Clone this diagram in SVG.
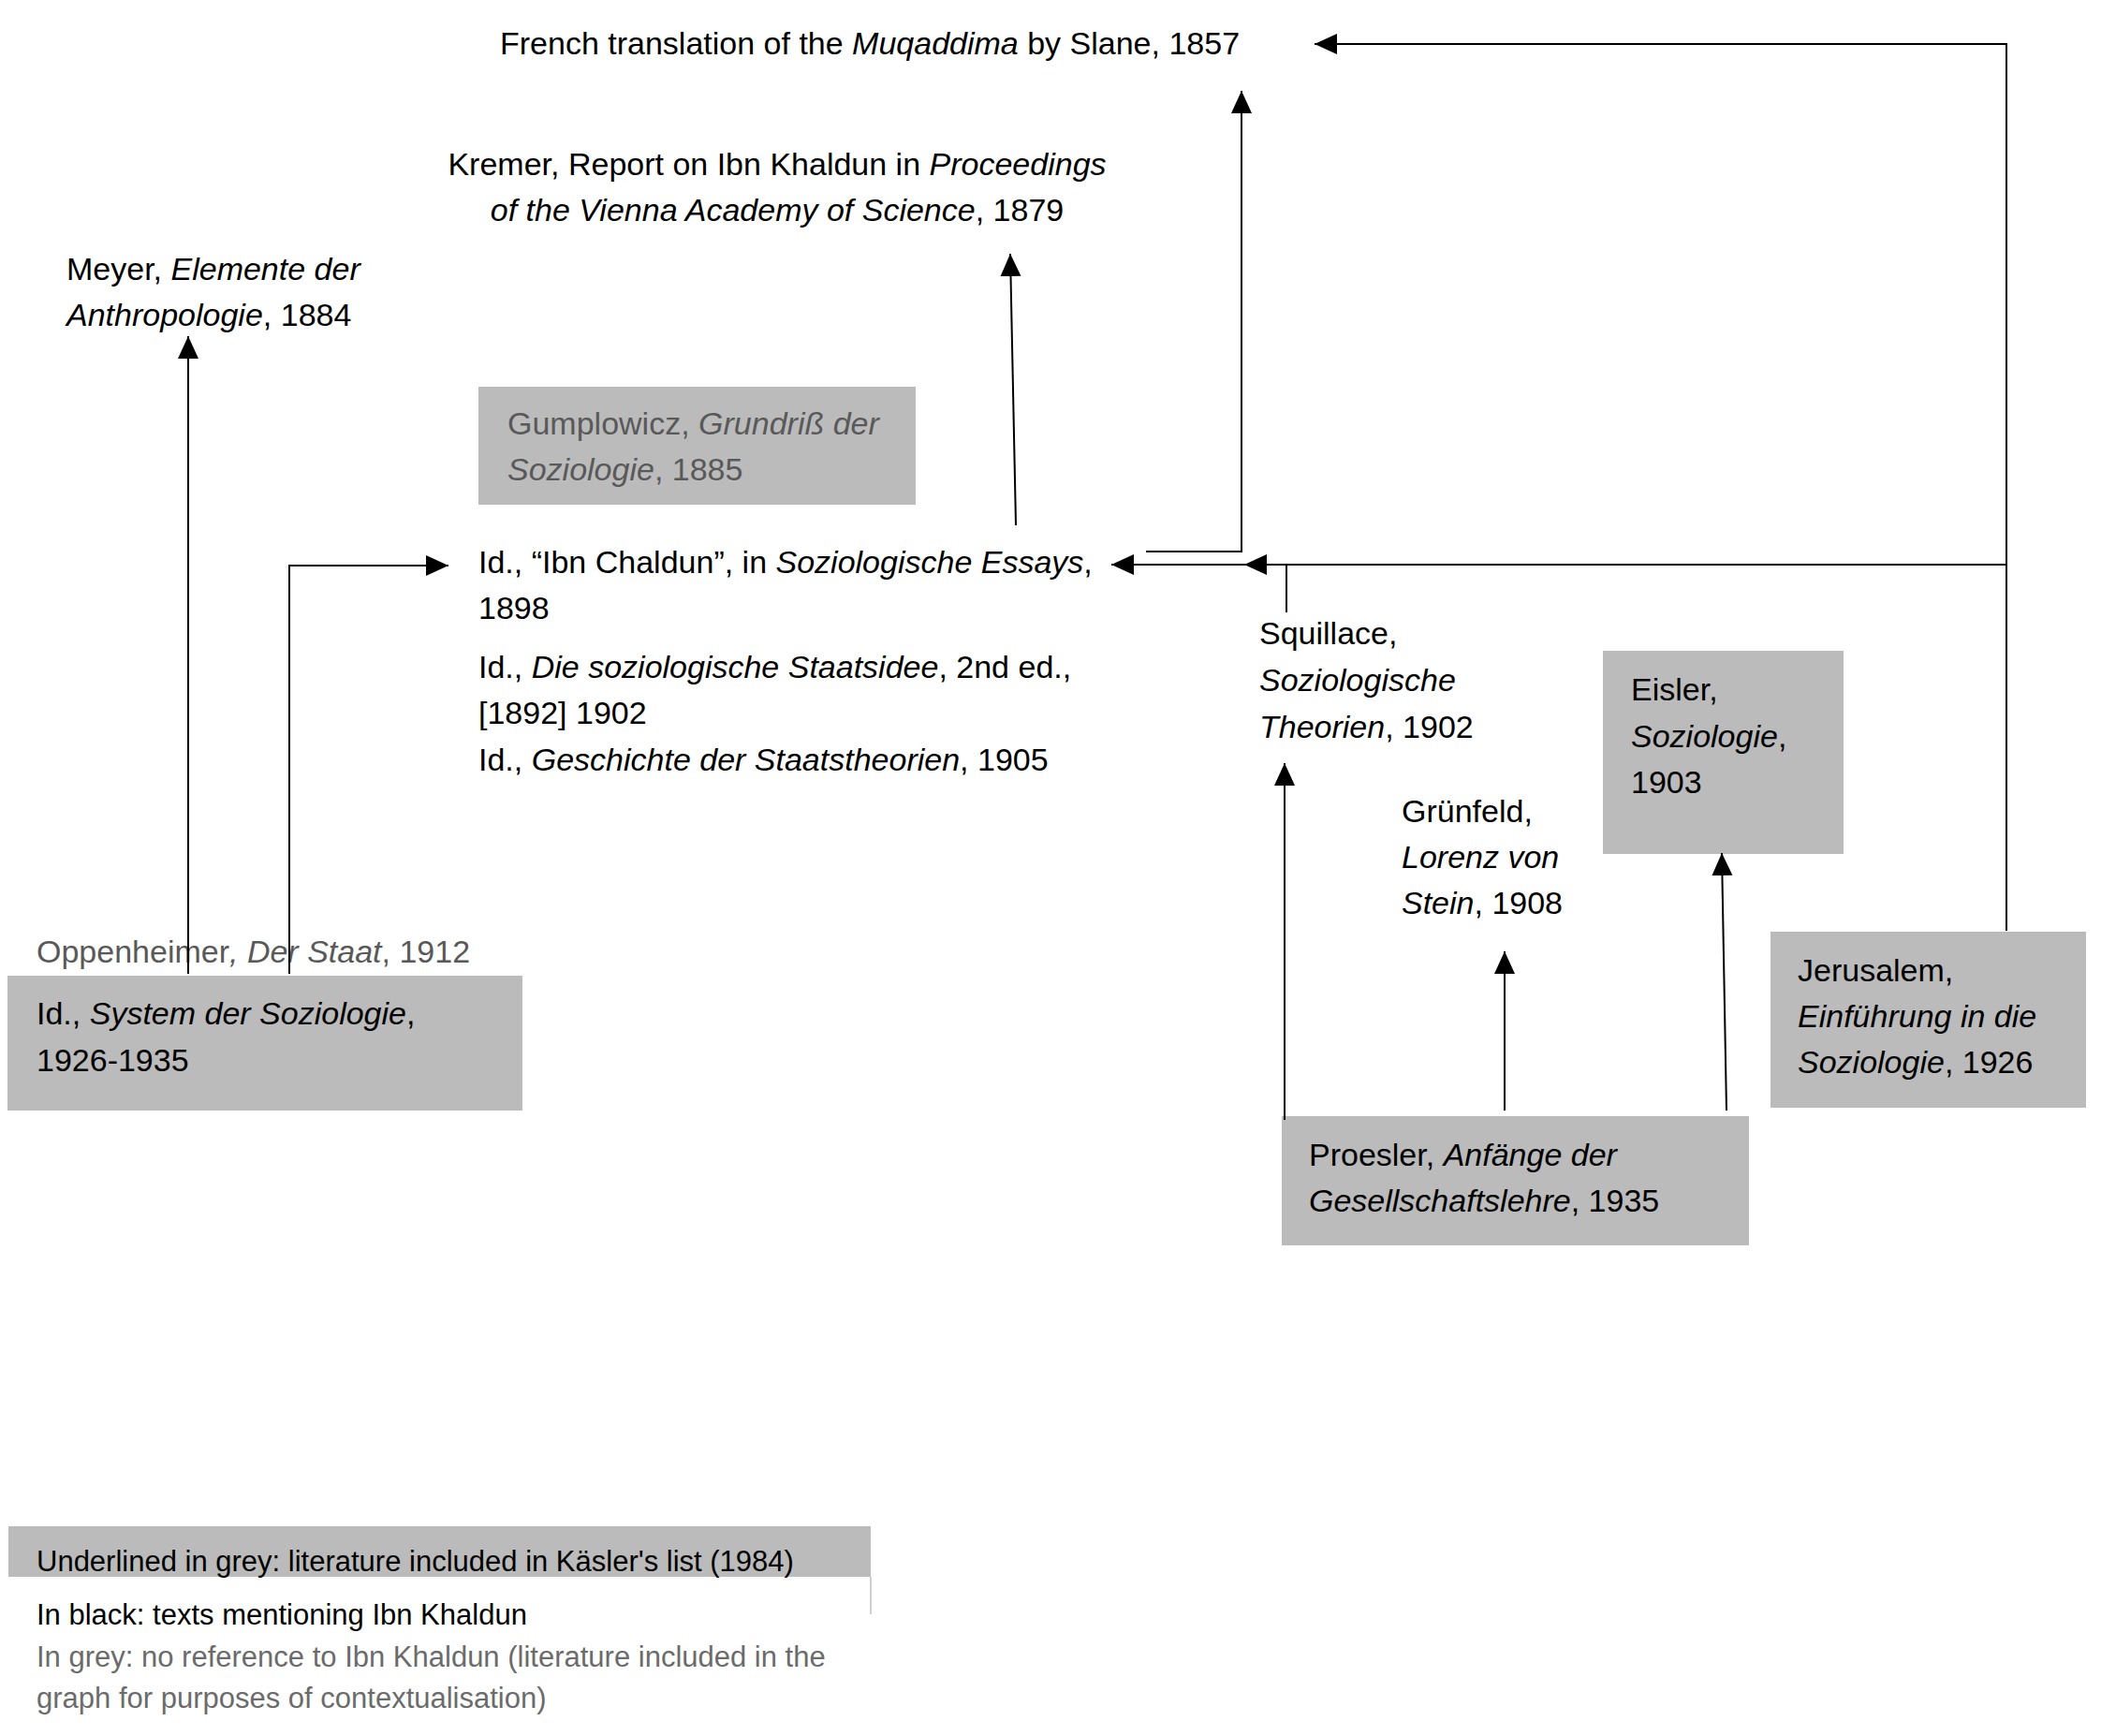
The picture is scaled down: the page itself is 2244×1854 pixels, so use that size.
<svg xmlns="http://www.w3.org/2000/svg" width="2244" height="1854" viewBox="0 0 2244 1854">
<style>
text{font-family:"Liberation Sans",Arial,sans-serif;font-size:34px;fill:#000}
.g{fill:#595959}
.i{font-style:italic}
.box{fill:#bbbbbb}
.lg{font-size:31px}
.lgg{fill:#6b6b6b}
.c{fill:none;stroke:#000;stroke-width:2}
</style>
<defs>
<marker id="ah" markerUnits="userSpaceOnUse" markerWidth="26" markerHeight="24" refX="24" refY="11" orient="auto">
<path d="M0,0 L24,11 L0,22 z" fill="#000"/>
</marker>
</defs>
<rect width="2244" height="1854" fill="#fff"/>

<g id="slane"><text x="534" y="58">French translation of the <tspan class="i">Muqaddima</tspan> by Slane, 1857</text></g>
<g id="kremer"><text x="830" y="187" text-anchor="middle">Kremer, Report on Ibn Khaldun in <tspan class="i">Proceedings</tspan></text>
<text x="830" y="236" text-anchor="middle"><tspan class="i">of the Vienna Academy of Science</tspan>, 1879</text></g>
<g id="meyer"><text x="71" y="299">Meyer, <tspan class="i">Elemente der</tspan></text>
<text x="71" y="348"><tspan class="i">Anthropologie</tspan>, 1884</text></g>
<g id="gumplowicz"><rect class="box" x="511" y="413" width="467" height="126"/>
<text class="g" x="542" y="464">Gumplowicz, <tspan class="i">Grundriß der</tspan></text>
<text class="g" x="542" y="513"><tspan class="i">Soziologie</tspan>, 1885</text></g>
<g id="gumplowicz-works"><text x="511" y="612">Id., “Ibn Chaldun”, in <tspan class="i">Soziologische Essays</tspan>,</text>
<text x="511" y="661">1898</text>
<text x="511" y="724">Id., <tspan class="i">Die soziologische Staatsidee</tspan>, 2nd ed.,</text>
<text x="511" y="773">[1892] 1902</text>
<text x="511" y="823">Id., <tspan class="i">Geschichte der Staatstheorien</tspan>, 1905</text></g>
<g id="squillace"><text x="1345" y="688">Squillace,</text>
<text x="1345" y="738" class="i">Soziologische</text>
<text x="1345" y="788"><tspan class="i">Theorien</tspan>, 1902</text></g>
<g id="eisler"><rect class="box" x="1712" y="695" width="257" height="217"/>
<text x="1742" y="748">Eisler,</text>
<text x="1742" y="798"><tspan class="i">Soziologie</tspan>,</text>
<text x="1742" y="847">1903</text></g>
<g id="gruenfeld"><text x="1497" y="878">Grünfeld,</text>
<text x="1497" y="927" class="i">Lorenz von</text>
<text x="1497" y="976"><tspan class="i">Stein</tspan>, 1908</text></g>
<g id="jerusalem"><rect class="box" x="1891" y="995" width="337" height="188"/>
<text x="1920" y="1048">Jerusalem,</text>
<text x="1920" y="1097" class="i">Einführung in die</text>
<text x="1920" y="1146"><tspan class="i">Soziologie</tspan>, 1926</text></g>
<g id="proesler"><rect class="box" x="1369" y="1192" width="499" height="138"/>
<text x="1398" y="1245">Proesler, <tspan class="i">Anfänge der</tspan></text>
<text x="1398" y="1294"><tspan class="i">Gesellschaftslehre</tspan>, 1935</text></g>
<g id="oppenheimer"><text class="g" x="39" y="1028">Oppenheimer<tspan class="i">, Der Staat</tspan>, 1912</text>
<rect class="box" x="8" y="1042" width="550" height="144"/>
<text x="39" y="1094">Id., <tspan class="i">System der Soziologie</tspan>,</text>
<text x="39" y="1144">1926-1935</text></g>

<g id="connectors">
<path class="c" d="M201,1040 V359" marker-end="url(#ah)"/>
<path class="c" d="M309,1040 V604 H479" marker-end="url(#ah)"/>
<path class="c" d="M1085,561 L1079,271" marker-end="url(#ah)"/>
<path class="c" d="M1224,589 H1326 V97" marker-end="url(#ah)"/>
<path class="c" d="M2143,994 V47 H1404" marker-end="url(#ah)"/>
<path class="c" d="M2143,603 H1187" marker-end="url(#ah)"/>
<path class="c" d="M1374,654 V603 H1329" marker-end="url(#ah)"/>
<path class="c" d="M1372,1196 V815" marker-end="url(#ah)"/>
<path class="c" d="M1607,1186 V1016" marker-end="url(#ah)"/>
<path class="c" d="M1844,1186 L1839,911" marker-end="url(#ah)"/>
</g>

<g id="legend">
<rect class="box" x="9" y="1630" width="921" height="54"/>
<line x1="930" y1="1684" x2="930" y2="1724" stroke="#d0d0d0" stroke-width="2"/>
<text class="lg" x="39" y="1678">Underlined in grey: literature included in Käsler's list (1984)</text>
<text class="lg" x="39" y="1735">In black: texts mentioning Ibn Khaldun</text>
<text class="lg lgg" x="39" y="1780">In grey: no reference to Ibn Khaldun (literature included in the</text>
<text class="lg lgg" x="39" y="1824">graph for purposes of contextualisation)</text>
</g>
</svg>
